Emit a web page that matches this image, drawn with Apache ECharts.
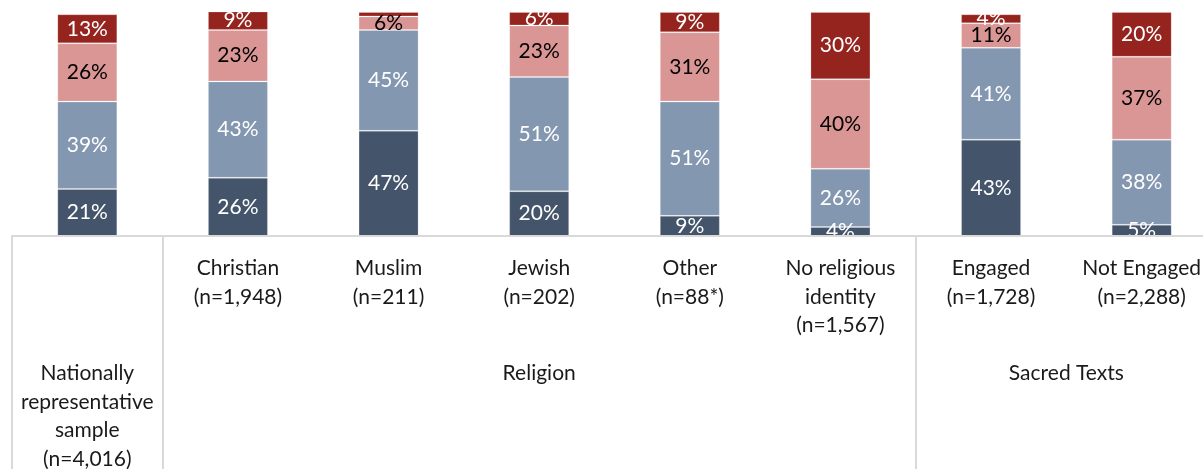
<!DOCTYPE html>
<html>
<head>
<meta charset="utf-8">
<script src="https://cdn.jsdelivr.net/npm/echarts@6/dist/echarts.min.js"></script>
<style>
  html, body { margin: 0; padding: 0; background: #fff; }
  #chart { width: 1203px; height: 469px; }
</style>
</head>
<body>
<div id="chart"></div>
<script>
// Categories along the x axis (first one is labelled in the group row)
const categories = [
  'Nationally representative sample (n=4,016)',
  'Christian\n(n=1,948)',
  'Muslim\n(n=211)',
  'Jewish\n(n=202)',
  'Other\n(n=88*)',
  'No religious\nidentity\n(n=1,567)',
  'Engaged\n(n=1,728)',
  'Not Engaged\n(n=2,288)'
];

// Group row labels with the first and last category index they span
const groupLabels = ['Nationally\nrepresentative\nsample\n(n=4,016)', 'Religion', 'Sacred Texts'];
const groupStart = [0, 1, 6];
const groupEnd = [0, 5, 7];

// Stacked shares (%), bottom to top
const seriesA = [21, 26, 47, 20, 9, 4, 43, 5];
const seriesB = [39, 43, 45, 51, 51, 26, 41, 38];
const seriesC = [26, 23, 6, 23, 31, 40, 11, 37];
const seriesD = [13, 9, 2, 6, 9, 30, 4, 20];

const FONT = 'Lato';
const chart = echarts.init(document.getElementById('chart'));

function makeSeries(name, data, color, labelColor) {
  return {
    name: name,
    type: 'bar',
    stack: 'total',
    barWidth: 60,
    data: data,
    itemStyle: { color: color, borderColor: 'rgba(255,255,255,0.2)', borderWidth: 1 },
    label: {
      show: true,
      position: 'inside',
      color: labelColor,
      fontFamily: FONT,
      fontSize: 21,
      formatter: p => (p.value >= 3 ? p.value + '%' : '')
    },
    emphasis: { disabled: true }
  };
}

const option = {
  animation: false,
  backgroundColor: '#fff',
  grid: { left: 12, top: 12, width: 1205, height: 224, outerBoundsMode: 'none', containLabel: false },
  xAxis: {
    type: 'category',
    data: categories,
    z: 10,
    axisLine: { show: true, lineStyle: { color: '#d9d9d9', width: 2 } },
    axisTick: {
      show: true,
      length: 235,
      interval: (idx) => idx === 0 || idx === 1 || idx === 6,
      lineStyle: { color: '#d9d9d9', width: 2 }
    },
    axisLabel: {
      interval: 0,
      margin: 18,
      fontFamily: FONT,
      fontSize: 21,
      lineHeight: 28.5,
      color: '#1a1a1a',
      formatter: (v, i) => (i === 0 ? '' : v)
    }
  },
  yAxis: {
    type: 'value',
    min: 0,
    max: 100,
    show: false,
    splitLine: { show: false }
  },
  series: [
    makeSeries('A', seriesA, '#44546a', '#ffffff'),
    makeSeries('B', seriesB, '#8497b0', '#ffffff'),
    makeSeries('C', seriesC, '#da9694', '#000000'),
    makeSeries('D', seriesD, '#95241f', '#ffffff')
  ]
};

chart.setOption(option);

// Plot-area masks (labels spilling outside the plot are hidden) and the group row
const gridTop = chart.convertToPixel({ yAxisIndex: 0 }, 100);
const gridBottom = chart.convertToPixel({ yAxisIndex: 0 }, 0);
const graphics = [
  { type: 'rect', z: 5, silent: true, shape: { x: 0, y: 0, width: 1203, height: gridTop }, style: { fill: '#fff' } },
  { type: 'rect', z: 5, silent: true, shape: { x: 0, y: gridBottom, width: 1203, height: 469 - gridBottom }, style: { fill: '#fff' } }
];
groupLabels.forEach((txt, g) => {
  const x0 = chart.convertToPixel({ xAxisIndex: 0 }, groupStart[g]);
  const x1 = chart.convertToPixel({ xAxisIndex: 0 }, groupEnd[g]);
  graphics.push({
    type: 'text',
    z: 11,
    silent: true,
    x: (x0 + x1) / 2,
    y: gridBottom + 123,
    style: {
      text: txt,
      fontFamily: FONT,
      fontSize: 21,
      lineHeight: 28.5,
      fill: '#1a1a1a',
      align: 'center',
      verticalAlign: 'top'
    }
  });
});
chart.setOption({ graphic: graphics });
</script>
</body>
</html>
